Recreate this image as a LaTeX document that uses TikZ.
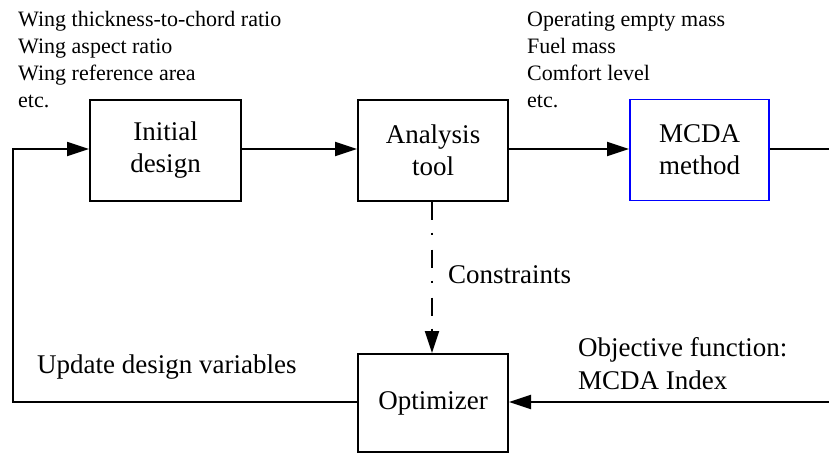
\documentclass[tikz,border=0pt]{standalone}
\usepackage{fontspec}
\setmainfont{Liberation Serif}
\usetikzlibrary{arrows.meta}
\definecolor{mcdablue}{RGB}{0,0,255}
\tikzset{
  box/.style={draw, line width=2pt, minimum width=#1, minimum height=101pt,
    inner sep=0pt, align=center, font=\fontsize{27}{32}\selectfont},
  smalltext/.style={inner sep=0pt, align=left, font=\fontsize{22}{27}\selectfont},
  bigtext/.style={inner sep=0pt, align=left, font=\fontsize{27}{33}\selectfont},
  flow/.style={line width=2pt, -{Triangle[length=22pt,width=14pt]}},
  plain/.style={line width=2pt},
  dashdot/.style={line width=2pt, dash pattern=on 18pt off 13pt on 2pt off 15pt,
    -{Triangle[length=22pt,width=14pt]}}
}
\begin{document}
\begin{tikzpicture}[x=1pt,y=-1pt]
\useasboundingbox (0,0) rectangle (829,453);
\node[box=151pt] (init) at (165.5,150) {Initial\\design};
\node[box=150pt] (ana) at (433,150) {Analysis\\tool};
\node[box=139pt, draw=mcdablue, line width=1.8pt] (mcda) at (699.5,150) {MCDA\\method};
\node[box=150pt, minimum height=98pt] (opt) at (433,403) {Optimizer};

\coordinate (rtop) at (829,149);
\coordinate (rbot) at (829,402);
\coordinate (lbot) at (13,402);
\coordinate (ltop) at (13,149);

\draw[flow] (init.east |- 0,149) -- (ana.west |- 0,149);
\draw[flow] (ana.east |- 0,149) -- (mcda.west |- 0,149);
\draw[plain] (mcda.east |- 0,149) -- (rtop);
\draw[flow] (rbot) -- (opt.east |- 0,402);
\draw[line width=1.8pt, -{Triangle[length=22pt,width=14pt]}] (opt.west |- 0,402) -- (lbot) -- (ltop) -- (init.west |- 0,149);
\draw[dashdot] (ana.south -| 432,0) -- (opt.north -| 432,0);

\node[smalltext, anchor=base west] (inputs) at (18,107)
  {Wing thickness-to-chord ratio\\Wing aspect ratio\\Wing reference area\\etc.};
\node[smalltext, anchor=base west] (outputs) at (527,107)
  {Operating empty mass\\Fuel mass\\Comfort level\\etc.};
\node[bigtext, anchor=base west] (upd) at (37,373) {Update design variables};
\node[bigtext, anchor=base west] (cons) at (448,283) {Constraints};
\node[bigtext, anchor=base west] (obj) at (578,389) {Objective function:\\MCDA Index};
\end{tikzpicture}
\end{document}
